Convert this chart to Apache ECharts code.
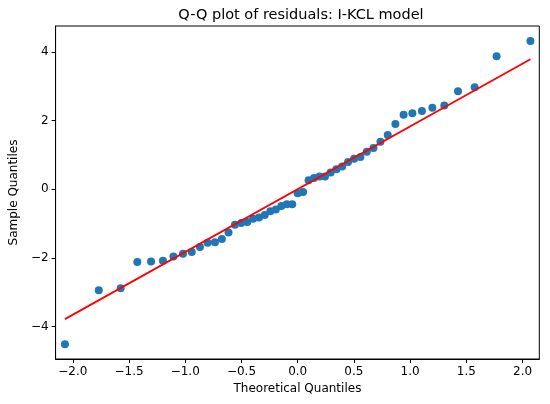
<!DOCTYPE html>
<html>
<head>
<meta charset="utf-8">
<script src="https://cdn.jsdelivr.net/npm/echarts@6/dist/echarts.min.js"></script>
<style>
html,body{margin:0;padding:0;background:#fff;}
#chart{width:550px;height:404px;}
</style>
</head>
<body>
<div id="chart"></div>
<script>
const theoretical = [-2.070,-1.769,-1.574,-1.426,-1.304,-1.198,-1.105,-1.020,-0.942,-0.869,-0.801,-0.736,-0.674,-0.615,-0.558,-0.502,-0.448,-0.396,-0.344,-0.293,-0.243,-0.194,-0.145,-0.097,-0.048,0.000,0.048,0.097,0.145,0.194,0.243,0.293,0.344,0.396,0.448,0.502,0.558,0.615,0.674,0.736,0.801,0.869,0.942,1.020,1.105,1.198,1.304,1.426,1.574,1.769,2.070];
const sample = [-4.51,-2.94,-2.88,-2.12,-2.10,-2.08,-1.96,-1.88,-1.83,-1.68,-1.56,-1.54,-1.45,-1.26,-1.03,-0.98,-0.95,-0.86,-0.82,-0.75,-0.64,-0.59,-0.49,-0.44,-0.44,-0.12,-0.08,0.26,0.33,0.37,0.37,0.49,0.58,0.66,0.79,0.89,0.94,1.09,1.20,1.38,1.58,1.90,2.17,2.21,2.28,2.37,2.44,2.85,2.97,3.87,4.31];
const lineX = [-2.070, 2.070];
const lineY = [-3.78, 3.78];
const xTicks = [-2.0,-1.5,-1.0,-0.5,0.0,0.5,1.0,1.5,2.0];
const yTicks = [-4,-2,0,2,4];
const titleText = 'Q-Q plot of residuals: I-KCL model';
const xName = 'Theoretical Quantiles';
const yName = 'Sample Quantiles';

const FONT = 'DejaVu Sans';
const fmtMinus = s => s.replace('-', '\u2212');
const chart = echarts.init(document.getElementById('chart'), null, {renderer:'canvas'});
chart.setOption({
  animation:false,
  backgroundColor:'#fff',
  title:{
    text:titleText,
    left:296, top:3, textAlign:'center',
    textStyle:{fontFamily:FONT,fontSize:14.5,fontWeight:'normal',color:'#000'}
  },
  grid:{left:52.3,right:10.7,top:26,bottom:45,show:true,borderColor:'#000',borderWidth:1,backgroundColor:'transparent'},
  xAxis:{
    type:'value', min:-2.153, max:2.149,
    name:xName, nameLocation:'middle', nameGap:24,
    nameTextStyle:{fontFamily:FONT,fontSize:12,color:'#000'},
    splitLine:{show:false},
    axisLine:{show:true,onZero:false,lineStyle:{color:'#000',width:1}},
    axisTick:{show:true,customValues:xTicks,length:4,lineStyle:{color:'#000'}},
    axisLabel:{customValues:xTicks,margin:7,fontFamily:FONT,fontSize:12,color:'#000',
      formatter:v=>fmtMinus(Number(v).toFixed(1))}
  },
  yAxis:{
    type:'value', min:-4.94, max:4.75,
    name:yName, nameLocation:'middle', nameGap:33, nameRotate:90,
    nameTextStyle:{fontFamily:FONT,fontSize:12,color:'#000'},
    splitLine:{show:false},
    axisLine:{show:true,onZero:false,lineStyle:{color:'#000',width:1}},
    axisTick:{show:true,customValues:yTicks,length:4,lineStyle:{color:'#000'}},
    axisLabel:{customValues:yTicks,margin:7,fontFamily:FONT,fontSize:12,color:'#000',
      formatter:v=>fmtMinus(String(Math.round(v)))}
  },
  series:[
    {
      type:'scatter', symbol:'circle', symbolSize:8,
      itemStyle:{color:'#1f77b4',opacity:1},
      data:theoretical.map((x,i)=>[x,sample[i]]),
      z:2
    },
    {
      type:'line', showSymbol:false, symbol:'none',
      lineStyle:{color:'#ff0000',width:1.8},
      data:lineX.map((x,i)=>[x,lineY[i]]),
      z:3
    }
  ]
});
</script>
</body>
</html>
